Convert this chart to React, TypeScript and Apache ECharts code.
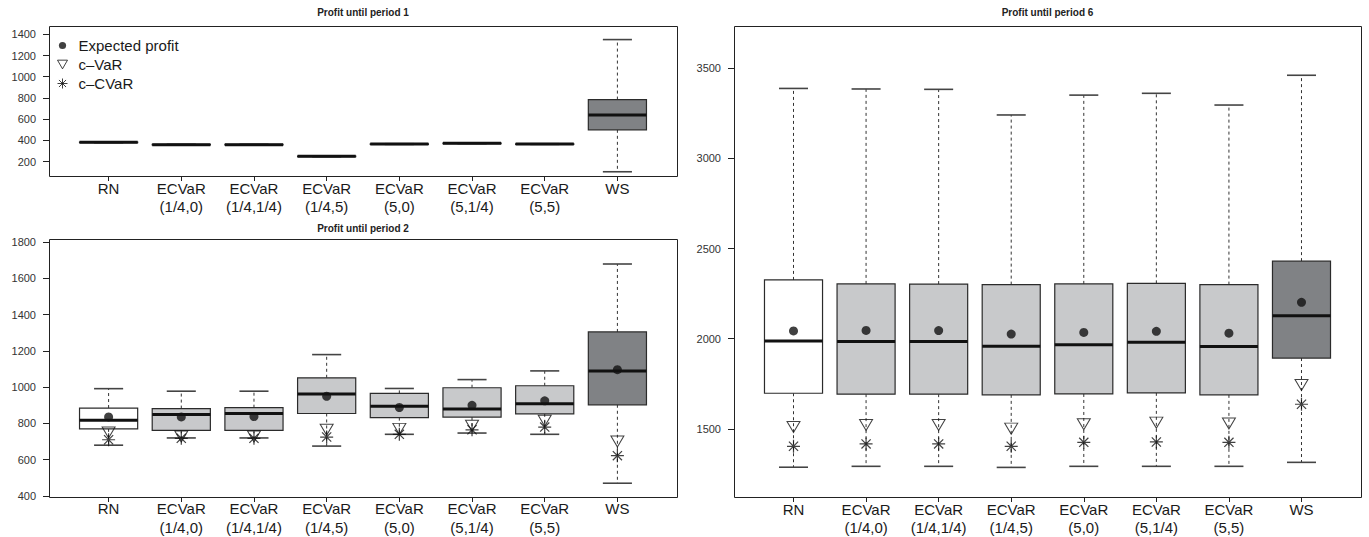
import React, { useEffect, useRef } from 'react';
import * as echarts from 'echarts';

// ---------------- data ----------------
const categories = [
  'RN',
  'ECVaR\n(1/4,0)',
  'ECVaR\n(1/4,1/4)',
  'ECVaR\n(1/4,5)',
  'ECVaR\n(5,0)',
  'ECVaR\n(5,1/4)',
  'ECVaR\n(5,5)',
  'WS',
];

const titles = ['Profit until period 1', 'Profit until period 2', 'Profit until period 6'];
const legendNames = ['Expected profit', 'c\u2013VaR', 'c\u2013CVaR'];

// Profit until period 1 (box plots only)
const p1Low = [379, 357, 357, 247, 363, 370, 363, 105];
const p1Q1 = [380, 358, 358, 248, 364, 371, 364, 500];
const p1Median = [382, 360, 360, 250, 366, 373, 366, 640];
const p1Q3 = [384, 362, 362, 252, 368, 375, 368, 785];
const p1High = [385, 363, 363, 253, 369, 376, 369, 1350];

// Profit until period 2
const p2Low = [680, 720, 720, 675, 740, 747, 740, 470];
const p2Q1 = [770, 762, 762, 855, 832, 835, 853, 903];
const p2Median = [818, 850, 855, 963, 895, 880, 908, 1090];
const p2Q3 = [885, 882, 887, 1052, 966, 997, 1008, 1305];
const p2High = [992, 978, 978, 1180, 993, 1042, 1090, 1680];
const p2Mean = [836, 836, 838, 950, 888, 900, 925, 1097];
const p2VaR = [750, 728, 728, 765, 770, 787, 815, 700];
const p2CVaR = [710, 718, 718, 725, 740, 765, 780, 622];

// Profit until period 6
const p6Low = [1288, 1293, 1293, 1287, 1293, 1293, 1293, 1315];
const p6Q1 = [1698, 1693, 1693, 1689, 1694, 1700, 1689, 1893];
const p6Median = [1987, 1985, 1985, 1959, 1967, 1980, 1957, 2128];
const p6Q3 = [2326, 2304, 2303, 2300, 2304, 2307, 2300, 2430];
const p6High = [3387, 3384, 3382, 3240, 3350, 3360, 3295, 3460];
const p6Mean = [2043, 2046, 2045, 2026, 2035, 2041, 2031, 2202];
const p6VaR = [1511, 1522, 1522, 1502, 1526, 1535, 1530, 1744];
const p6CVaR = [1404, 1417, 1417, 1404, 1426, 1428, 1426, 1637];

// axis ticks and ranges
const yTicksP1 = [200, 400, 600, 800, 1000, 1200, 1400];
const yTicksP2 = [400, 600, 800, 1000, 1200, 1400, 1600, 1800];
const yTicksP6 = [1500, 2000, 2500, 3000, 3500];
const yRangeP1 = [65, 1478];
const yRangeP2 = [394, 1818];
const yRangeP6 = [1123, 3733];

// ---------------- layout / style ----------------
const W = 1369;
const H = 537;
const FONT = '"Liberation Sans", Arial, Helvetica, sans-serif';
const frames = [
  { L: 49, R: 677, T: 26, B: 176 },
  { L: 49, R: 677, T: 239, B: 497 },
  { L: 734, R: 1361, T: 26, B: 497 },
];
const FILL_WHITE = '#ffffff';
const FILL_LIGHT = '#c8c9cb';
const FILL_DARK = '#808285';

const TRI_PATH = 'path://M0,0 L12,0 L6,10.4 Z';
const AST_PATH = 'path://M6,0 L6,12 M0,6 L12,6 M1.76,1.76 L10.24,10.24 M10.24,1.76 L1.76,10.24';
const DOT_ICON = 'path://M0,0 M10,10 M8.6,5 A3.6,3.6 0 1 1 1.4,5 A3.6,3.6 0 1 1 8.6,5 Z';

function gridFor(f: { L: number; R: number; T: number; B: number }) {
  const u = (f.R - f.L) / 8.64;
  const left = f.L + 0.32 * u;
  const width = 8 * u;
  return { left, top: f.T, width, height: f.B - f.T, offset: left - f.L };
}

function boxData(low: number[], q1: number[], med: number[], q3: number[], high: number[]) {
  return categories.map((_, i) => [i, low[i], q1[i], med[i], q3[i], high[i]]);
}

function renderBox(params: any, api: any) {
  const i = api.value(0);
  const pLow = api.coord([i, api.value(1)]);
  const pQ1 = api.coord([i, api.value(2)]);
  const pMed = api.coord([i, api.value(3)]);
  const pQ3 = api.coord([i, api.value(4)]);
  const pHigh = api.coord([i, api.value(5)]);
  const band = api.size([1, 0])[0];
  const hw = band * 0.4;
  const cw = hw / 2;
  const cx = pMed[0];
  const fill = i === 0 ? FILL_WHITE : i === categories.length - 1 ? FILL_DARK : FILL_LIGHT;
  const dash = { stroke: '#333', lineWidth: 1, lineDash: [3, 3] };
  const cap = { stroke: '#444', lineWidth: 1.6 };
  return {
    type: 'group',
    children: [
      { type: 'line', shape: { x1: cx, y1: pQ3[1], x2: cx, y2: pHigh[1] }, style: dash },
      { type: 'line', shape: { x1: cx, y1: pQ1[1], x2: cx, y2: pLow[1] }, style: dash },
      { type: 'line', shape: { x1: cx - cw, y1: pHigh[1], x2: cx + cw, y2: pHigh[1] }, style: cap },
      { type: 'line', shape: { x1: cx - cw, y1: pLow[1], x2: cx + cw, y2: pLow[1] }, style: cap },
      {
        type: 'rect',
        shape: { x: cx - hw, y: pQ3[1], width: 2 * hw, height: Math.max(pQ1[1] - pQ3[1], 0.5) },
        style: { fill, stroke: '#2b2b2b', lineWidth: 1.2 },
      },
      { type: 'line', shape: { x1: cx - hw, y1: pMed[1], x2: cx + hw, y2: pMed[1] }, style: { stroke: '#111', lineWidth: 3 } },
    ],
  };
}

function buildOption() {
  const grids = frames.map(gridFor);
  const ranges = [yRangeP1, yRangeP2, yRangeP6];
  const ticks = [yTicksP1, yTicksP2, yTicksP6];
  const labelMargins = [3, 2.5, 3];

  const markerSeries = (gi: number, mean: number[], vaR: number[], cvar: number[]) => [
    {
      type: 'scatter', name: legendNames[0], xAxisIndex: gi, yAxisIndex: gi, z: 5,
      symbol: 'circle', symbolSize: 9, data: mean,
      itemStyle: { color: '#111' },
    },
    {
      type: 'scatter', name: legendNames[1], xAxisIndex: gi, yAxisIndex: gi, z: 5,
      symbol: TRI_PATH, symbolSize: [13, 11], data: vaR,
      itemStyle: { color: 'rgba(0,0,0,0)', borderColor: '#111', borderWidth: 1 },
    },
    {
      type: 'scatter', name: legendNames[2], xAxisIndex: gi, yAxisIndex: gi, z: 5,
      symbol: AST_PATH, symbolSize: 13, data: cvar,
      itemStyle: { color: 'rgba(0,0,0,0)', borderColor: '#111', borderWidth: 1.2 },
    },
  ];

  return {
    animation: false,
    backgroundColor: '#ffffff',
    textStyle: { fontFamily: FONT },
    grid: grids.map((g) => ({ left: g.left, top: g.top, width: g.width, height: g.height, containLabel: false })),
    xAxis: grids.map((g, gi) => ({
      type: 'category',
      gridIndex: gi,
      data: categories,
      axisLine: { show: false },
      axisTick: { show: true, alignWithLabel: true, length: 5, lineStyle: { color: '#222' } },
      axisLabel: {
        interval: 0, fontSize: 15, lineHeight: 18.5, color: '#1a1a1a',
        margin: labelMargins[gi], fontFamily: FONT,
      },
      splitLine: { show: false },
    })),
    yAxis: grids.map((g, gi) => ({
      type: 'value',
      gridIndex: gi,
      min: ranges[gi][0],
      max: ranges[gi][1],
      offset: g.offset,
      axisLine: { show: false },
      splitLine: { show: false },
      axisTick: { show: true, length: 6, lineStyle: { color: '#222' }, customValues: ticks[gi] },
      axisLabel: {
        customValues: ticks[gi], fontSize: 11, color: '#333', margin: 13, fontFamily: FONT,
        formatter: (v: number) => String(v),
      },
    })),
    legend: {
      show: true,
      selectedMode: false,
      orient: 'vertical',
      left: 57,
      top: 36,
      padding: 0,
      itemGap: 0,
      itemWidth: 10,
      itemHeight: 10,
      textStyle: { fontSize: 15, lineHeight: 19, color: '#1a1a1a', fontFamily: FONT, padding: [0, 0, 0, 6] },
      data: [
        { name: legendNames[0], icon: DOT_ICON, itemStyle: { color: '#111', borderWidth: 0 } },
        { name: legendNames[1], icon: TRI_PATH, itemStyle: { color: 'rgba(0,0,0,0)', borderColor: '#111', borderWidth: 1 } },
        { name: legendNames[2], icon: AST_PATH, itemStyle: { color: 'rgba(0,0,0,0)', borderColor: '#111', borderWidth: 1 } },
      ],
    },
    graphic: [
      ...frames.map((f) => ({
        type: 'rect', z: 1, silent: true,
        shape: { x: f.L + 0.5, y: f.T + 0.5, width: f.R - f.L, height: f.B - f.T },
        style: { fill: 'none', stroke: '#222', lineWidth: 1 },
      })),
      ...frames.map((f, k) => ({
        type: 'text', silent: true,
        x: (f.L + f.R) / 2,
        y: k === 1 ? 228 : 12,
        style: {
          text: titles[k], align: 'center', verticalAlign: 'middle',
          fontSize: 10, fontWeight: 'bold', fontFamily: FONT, fill: '#222',
        },
      })),
    ],
    series: [
      { type: 'custom', xAxisIndex: 0, yAxisIndex: 0, z: 2, renderItem: renderBox, encode: { x: 0, y: [1, 2, 3, 4, 5] }, data: boxData(p1Low, p1Q1, p1Median, p1Q3, p1High) },
      { type: 'custom', xAxisIndex: 1, yAxisIndex: 1, z: 2, renderItem: renderBox, encode: { x: 0, y: [1, 2, 3, 4, 5] }, data: boxData(p2Low, p2Q1, p2Median, p2Q3, p2High) },
      ...markerSeries(1, p2Mean, p2VaR, p2CVaR),
      { type: 'custom', xAxisIndex: 2, yAxisIndex: 2, z: 2, renderItem: renderBox, encode: { x: 0, y: [1, 2, 3, 4, 5] }, data: boxData(p6Low, p6Q1, p6Median, p6Q3, p6High) },
      ...markerSeries(2, p6Mean, p6VaR, p6CVaR),
    ],
  };
}

export default function App() {
  const ref = useRef<HTMLDivElement>(null);
  useEffect(() => {
    const el = ref.current;
    if (!el) return;
    const chart = echarts.init(el, null, { renderer: 'svg' });
    chart.setOption(buildOption() as any);
    return () => chart.dispose();
  }, []);
  return (
    <div
      ref={ref}
      style={{ position: 'fixed', left: 0, top: 0, width: W, height: H, background: '#ffffff' }}
    />
  );
}
